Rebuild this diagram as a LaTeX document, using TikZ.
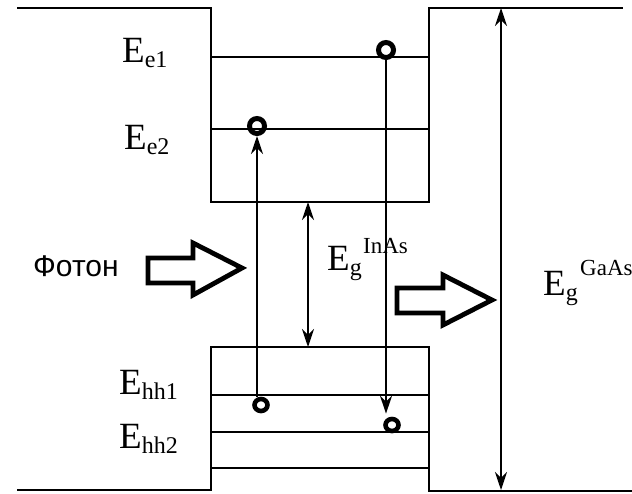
\documentclass[tikz,border=0pt]{standalone}
\usepackage{fontspec}
\setmainfont{Liberation Serif}
\newfontfamily\sansru{Liberation Sans}
\usetikzlibrary{arrows.meta,shapes.geometric}
\newcommand\Elab[1]{{\fontsize{37}{37}\selectfont E}\raisebox{-5pt}{\fontsize{24}{24}\selectfont #1}}
\newcommand\Esup[1]{{\fontsize{23}{23}\selectfont #1}}
\begin{document}
\begin{tikzpicture}[x=1pt,y=-1pt,
  frame/.style={line width=2.2pt},
  lvl/.style={line width=2pt},
  tipst/.tip={Stealth[length=18pt,width=12pt,inset=6pt]},
  vec/.style={line width=1.8pt,-tipst},
  dvec/.style={line width=1.8pt,tipst-tipst},
  dot/.style={circle,draw,line width=5pt,minimum size=15pt,inner sep=0pt},
  dots/.style={ellipse,draw,line width=4.6pt,minimum width=13pt,minimum height=12pt,inner sep=0pt},
  blk/.style={draw,line width=4.8pt,fill=white,line join=miter},
  txt/.style={inner sep=0pt,anchor=base west}]
\useasboundingbox (0,0) rectangle (632,493);
% band edges
\draw[frame] (17,8) -- (211,8) -- (211,202) -- (429,202) -- (429,8) -- (623,8);
\draw[frame] (17,490) -- (211,490) -- (211,347) -- (429,347) -- (429,491) -- (632,491);
% levels
\draw[lvl] (211,57) -- (429,57);
\draw[lvl] (211,129) -- (429,129);
\draw[lvl] (211,395) -- (429,395);
\draw[lvl] (211,432) -- (429,432);
\draw[lvl] (211,468) -- (429,468);
% labels
\node[txt] (lee1) at (122,62) {\Elab{e1}};
\node[txt] (lee2) at (124,149) {\Elab{e2}};
\node[txt] (lhh1) at (119,394) {\Elab{hh1}};
\node[txt] (lhh2) at (119,448) {\Elab{hh2}};
\node[txt] (lgi) at (327,270) {\Elab{g}};
\node[txt] (sgi) at (363,253) {\Esup{InAs}};
\node[txt] (lgg) at (543,295) {\Elab{g}};
\node[txt] (sgg) at (580,275) {\Esup{GaAs}};
\node[txt] (ph) at (33,276) {\sansru\fontsize{30}{30}\selectfont Фотон};
% block arrows
\draw[blk] (148,258) -- (193,258) -- (193,243) -- (242,268) -- (193,295) -- (193,283) -- (148,283) -- cycle;
\draw[blk] (397,288) -- (443,288) -- (443,275) -- (492,300) -- (443,325) -- (443,313) -- (397,313) -- cycle;
% carriers
\node[dot] (ce1) at (386,50) {};
\node[dot] (ce2) at (257,126) {};
\node[dots] (ch1) at (261,405) {};
\node[dots] (ch2) at (392,425) {};
% transitions
\draw[vec] (ce2 |- ch1.north) -- (ce2.south);
\draw[vec,shorten >=3pt] (ce1.south) -- (ce1 |- ch2.north);
% gaps
\coordinate (gi1) at (308,202);
\coordinate (gi2) at (308,347);
\draw[dvec] (gi1) -- (gi2);
\coordinate (gg1) at (501,8);
\coordinate (gg2) at (501,490);
\draw[dvec] (gg1) -- (gg2);
\end{tikzpicture}
\end{document}
